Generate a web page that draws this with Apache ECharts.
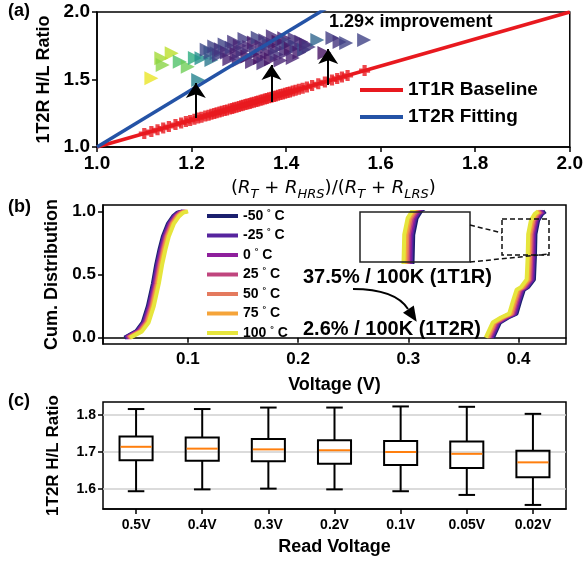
<!DOCTYPE html>
<html>
<head>
<meta charset="utf-8">
<script src="https://cdn.jsdelivr.net/npm/echarts@6/dist/echarts.min.js"></script>
<style>
  html, body { margin: 0; padding: 0; background: #fff; }
  #chart { width: 586px; height: 561px; }
</style>
</head>
<body>
<div id="chart"></div>
<script>
// ---------- panel (a): H/L ratio vs resistance ratio ----------
var baseX = [1.0, 2.0];          // 1T1R baseline (y = x)
var baseY = [1.0, 2.0];
var fitX = [1.0, 1.5];           // 1T2R fitting line
var fitY = [1.0, 2.06];
// measured 1T1R cells (sit on the baseline)
var cellRatio = [1.100, 1.115, 1.128, 1.140, 1.152, 1.166, 1.178, 1.188, 1.197, 1.206,
  1.214, 1.221, 1.229, 1.236, 1.242, 1.248, 1.253, 1.259, 1.264, 1.270, 1.275, 1.281,
  1.286, 1.290, 1.295, 1.300, 1.305, 1.309, 1.314, 1.318, 1.323, 1.327, 1.332, 1.337,
  1.341, 1.346, 1.350, 1.355, 1.359, 1.364, 1.369, 1.374, 1.378, 1.383, 1.388, 1.393,
  1.398, 1.403, 1.408, 1.414, 1.420, 1.427, 1.435, 1.444, 1.455, 1.468, 1.482, 1.497,
  1.508, 1.518, 1.530, 1.566];
// 1T2R cells: x, H/L ratio, colour variable
var triX = [1.115, 1.136, 1.139, 1.158, 1.175, 1.192, 1.207, 1.214, 1.221, 1.242, 1.253,
  1.232, 1.240, 1.248, 1.258, 1.262, 1.270, 1.275, 1.280, 1.285, 1.290, 1.295, 1.300,
  1.302, 1.308, 1.312, 1.318, 1.322, 1.328, 1.332, 1.336, 1.340, 1.345, 1.348, 1.352,
  1.356, 1.360, 1.364, 1.368, 1.372, 1.376, 1.380, 1.384, 1.388, 1.392, 1.396, 1.400,
  1.405, 1.410, 1.414, 1.418, 1.422, 1.428, 1.432, 1.438, 1.442, 1.448,
  1.466, 1.481, 1.498, 1.513, 1.527, 1.565];
var triY = [1.509, 1.657, 1.607, 1.694, 1.632, 1.595, 1.659, 1.496, 1.657, 1.644, 1.694,
  1.720, 1.700, 1.745, 1.680, 1.725, 1.760, 1.700, 1.650, 1.735, 1.780, 1.690, 1.640,
  1.750, 1.710, 1.800, 1.670, 1.740, 1.630, 1.775, 1.700, 1.810, 1.660, 1.745, 1.620,
  1.790, 1.700, 1.760, 1.650, 1.820, 1.725, 1.685, 1.780, 1.640, 1.750, 1.805, 1.700,
  1.770, 1.730, 1.660, 1.800, 1.745, 1.700, 1.780, 1.720, 1.760, 1.740,
  1.793, 1.696, 1.807, 1.778, 1.770, 1.793];
var triC = [0.97, 0.86, 0.82, 0.90, 0.72, 0.78, 0.62, 0.45, 0.50, 0.40, 0.30,
  0.22, 0.25, 0.20, 0.18, 0.15, 0.20, 0.12, 0.10, 0.18, 0.15, 0.08, 0.12,
  0.10, 0.14, 0.18, 0.06, 0.12, 0.10, 0.08, 0.15, 0.20, 0.05, 0.10, 0.12,
  0.14, 0.08, 0.18, 0.06, 0.12, 0.10, 0.15, 0.05, 0.10, 0.16, 0.08, 0.12,
  0.20, 0.06, 0.10, 0.14, 0.18, 0.08, 0.12, 0.22, 0.10, 0.15,
  0.33, 0.05, 0.18, 0.15, 0.20, 0.20];
var arrowX = [1.209, 1.369, 1.489];
var arrowFrom = [1.215, 1.333, 1.459];
var arrowTo = [1.474, 1.607, 1.726];

// ---------- panel (b): CDF of read voltage vs temperature ----------
var tempNames = ['-50', '-25', '0', '25', '50', '75', '100'];
var tempColors = ['#1a1f6e', '#56249e', '#8e1f9c', '#c0457e', '#e47a5e', '#f5a43a', '#e6e53c'];
var lrsLevels = [0.00, 0.05, 0.12, 0.25, 0.43, 0.58, 0.70, 0.80, 0.90, 0.96, 0.99, 1.00];
var lrsVolt = [
  [0.0425, 0.0530, 0.0590, 0.0637, 0.0683, 0.0713, 0.0743, 0.0773, 0.0818, 0.0865, 0.0905, 0.0950],
  [0.0433, 0.0539, 0.0599, 0.0646, 0.0692, 0.0722, 0.0752, 0.0782, 0.0827, 0.0874, 0.0914, 0.0958],
  [0.0442, 0.0548, 0.0608, 0.0655, 0.0701, 0.0731, 0.0761, 0.0791, 0.0836, 0.0883, 0.0923, 0.0967],
  [0.0451, 0.0557, 0.0617, 0.0664, 0.0710, 0.0740, 0.0770, 0.0800, 0.0845, 0.0892, 0.0932, 0.0976],
  [0.0460, 0.0566, 0.0626, 0.0673, 0.0719, 0.0749, 0.0779, 0.0809, 0.0854, 0.0901, 0.0941, 0.0984],
  [0.0468, 0.0575, 0.0635, 0.0682, 0.0728, 0.0758, 0.0788, 0.0818, 0.0863, 0.0910, 0.0950, 0.0993],
  [0.0477, 0.0584, 0.0644, 0.0691, 0.0737, 0.0767, 0.0797, 0.0827, 0.0872, 0.0919, 0.0959, 0.1002]
];
var hrsLevels = [0.00, 0.12, 0.16, 0.19, 0.30, 0.38, 0.40, 0.46, 0.64, 0.82, 0.93, 0.98, 1.00];
var hrsVolt = [
  [0.3768, 0.3831, 0.3906, 0.3981, 0.4018, 0.4048, 0.4087, 0.4139, 0.4148, 0.4153, 0.4178, 0.4213, 0.4243],
  [0.3757, 0.3820, 0.3895, 0.3970, 0.4007, 0.4037, 0.4076, 0.4128, 0.4137, 0.4142, 0.4167, 0.4202, 0.4232],
  [0.3746, 0.3809, 0.3884, 0.3959, 0.3996, 0.4026, 0.4065, 0.4117, 0.4126, 0.4131, 0.4156, 0.4191, 0.4221],
  [0.3735, 0.3798, 0.3873, 0.3948, 0.3985, 0.4015, 0.4054, 0.4106, 0.4115, 0.4120, 0.4145, 0.4180, 0.4210],
  [0.3724, 0.3787, 0.3862, 0.3937, 0.3974, 0.4004, 0.4043, 0.4095, 0.4104, 0.4109, 0.4134, 0.4169, 0.4199],
  [0.3713, 0.3776, 0.3851, 0.3926, 0.3963, 0.3993, 0.4032, 0.4084, 0.4093, 0.4098, 0.4123, 0.4158, 0.4188],
  [0.3702, 0.3765, 0.3840, 0.3915, 0.3952, 0.3982, 0.4021, 0.4073, 0.4082, 0.4087, 0.4112, 0.4147, 0.4177]
];

// ---------- panel (c): H/L ratio vs read voltage ----------
var readV = ['0.5V', '0.4V', '0.3V', '0.2V', '0.1V', '0.05V', '0.02V'];
var boxLo  = [1.594, 1.599, 1.601, 1.599, 1.594, 1.584, 1.557];
var boxQ1  = [1.678, 1.676, 1.675, 1.668, 1.665, 1.657, 1.632];
var boxMed = [1.714, 1.709, 1.707, 1.705, 1.700, 1.695, 1.672];
var boxQ3  = [1.742, 1.739, 1.735, 1.732, 1.730, 1.728, 1.703];
var boxHi  = [1.816, 1.816, 1.820, 1.820, 1.823, 1.822, 1.803];

var FONT = 'Liberation Sans, Arial, Helvetica, sans-serif';
var myChart = echarts.init(document.getElementById('chart'));

function pairs(xs, ys) {
  return xs.map(function (x, i) { return [x, ys[i]]; });
}
function oneDec(v) { return v.toFixed(1); }

var boxAxisLine = { lineStyle: { color: '#000', width: 1.5 } };
var outTick = { show: true, length: 5, lineStyle: { color: '#000', width: 1.5 } };

var series = [];
// (a)
series.push({
  type: 'scatter', xAxisIndex: 0, yAxisIndex: 0,
  symbol: 'triangle', symbolRotate: -90, symbolSize: 14,
  data: triX.map(function (x, i) { return [x, triY[i], triC[i]]; }),
  z: 2
});
series.push({
  type: 'scatter', xAxisIndex: 0, yAxisIndex: 0,
  symbol: 'path://M3.1,0H6.9V3.1H10V6.9H6.9V10H3.1V6.9H0V3.1H3.1Z', symbolSize: 11,
  itemStyle: { color: '#e8191f' },
  data: cellRatio.map(function (v) { return [v, v]; }),
  z: 3
});
series.push({
  name: '1T1R Baseline', type: 'line', xAxisIndex: 0, yAxisIndex: 0,
  showSymbol: false, lineStyle: { color: '#e8191f', width: 3.5 }, itemStyle: { color: '#e8191f' },
  data: pairs(baseX, baseY), z: 4
});
series.push({
  name: '1T2R Fitting', type: 'line', xAxisIndex: 0, yAxisIndex: 0,
  showSymbol: false, clip: true, lineStyle: { color: '#2453a6', width: 3.5 }, itemStyle: { color: '#2453a6' },
  data: pairs(fitX, fitY), z: 5
});
series.push({
  type: 'lines', coordinateSystem: 'cartesian2d', xAxisIndex: 0, yAxisIndex: 0,
  symbol: ['none', 'arrow'], symbolSize: 15,
  lineStyle: { color: '#000', width: 2, opacity: 1 }, itemStyle: { color: '#000' },
  data: arrowX.map(function (x, i) { return { coords: [[x, arrowFrom[i]], [x, arrowTo[i]]] }; }),
  z: 6
});
// (b) main: LRS and HRS clusters, plus inset
tempNames.forEach(function (t, k) {
  var ls = { color: tempColors[k], width: 4 };
  series.push({
    name: t, type: 'line', xAxisIndex: 1, yAxisIndex: 1, showSymbol: false,
    lineStyle: ls, itemStyle: { color: tempColors[k] }, data: pairs(lrsVolt[k], lrsLevels)
  });
  series.push({
    name: t, type: 'line', xAxisIndex: 1, yAxisIndex: 1, showSymbol: false,
    lineStyle: ls, itemStyle: { color: tempColors[k] }, data: pairs(hrsVolt[k], hrsLevels)
  });
  series.push({
    name: t, type: 'line', xAxisIndex: 2, yAxisIndex: 2, showSymbol: false, clip: true,
    lineStyle: ls, itemStyle: { color: tempColors[k] }, data: pairs(hrsVolt[k], hrsLevels)
  });
});
// (c) box plots
series.push({
  type: 'custom', xAxisIndex: 3, yAxisIndex: 3,
  data: readV.map(function (c, i) { return [i, boxLo[i], boxQ1[i], boxMed[i], boxQ3[i], boxHi[i]]; }),
  encode: { x: 0, y: [1, 2, 3, 4, 5] },
  renderItem: function (params, api) {
    var x = api.value(0);
    var lo = api.coord([x, api.value(1)]);
    var q1 = api.coord([x, api.value(2)]);
    var md = api.coord([x, api.value(3)]);
    var q3 = api.coord([x, api.value(4)]);
    var hi = api.coord([x, api.value(5)]);
    var band = api.size([1, 0])[0];
    var bw = band * 0.5, cw = band * 0.25, cx = lo[0];
    var ls = { stroke: '#000', lineWidth: 2 };
    return {
      type: 'group', children: [
        { type: 'line', shape: { x1: cx, y1: hi[1], x2: cx, y2: q3[1] }, style: ls },
        { type: 'line', shape: { x1: cx, y1: q1[1], x2: cx, y2: lo[1] }, style: ls },
        { type: 'line', shape: { x1: cx - cw / 2, y1: hi[1], x2: cx + cw / 2, y2: hi[1] }, style: ls },
        { type: 'line', shape: { x1: cx - cw / 2, y1: lo[1], x2: cx + cw / 2, y2: lo[1] }, style: ls },
        { type: 'rect', shape: { x: cx - bw / 2, y: q3[1], width: bw, height: q1[1] - q3[1] },
          style: { stroke: '#000', lineWidth: 2, fill: 'none' } },
        { type: 'line', shape: { x1: cx - bw / 2 + 1, y1: md[1], x2: cx + bw / 2 - 1, y2: md[1] },
          style: { stroke: '#ff7f0e', lineWidth: 2 } }
      ]
    };
  }
});

var option = {
  animation: false,
  backgroundColor: '#fff',
  textStyle: { fontFamily: FONT, color: '#000' },
  grid: [
    { left: 97, top: 12, width: 474, height: 135, show: true, borderColor: '#000', borderWidth: 1.5 },
    { left: 103, top: 205, width: 463, height: 139, show: true, borderColor: '#000', borderWidth: 1.5 },
    { left: 360, top: 212, width: 110, height: 50, show: true, borderColor: '#222', borderWidth: 1.5, z: 5 },
    { left: 103, top: 402, width: 463, height: 107, show: true, borderColor: '#000', borderWidth: 1.5 }
  ],
  visualMap: {
    show: false, seriesIndex: 0, dimension: 2, min: 0, max: 1,
    inRange: { color: ['#440154', '#482878', '#3e4989', '#31688e', '#26828e',
                       '#1f9e89', '#35b779', '#6ece58', '#b5de2b', '#fde725'] }
  },
  legend: [
    {
      data: ['1T1R Baseline', '1T2R Fitting'], orient: 'vertical', left: 360, top: 80, padding: 0,
      icon: 'rect', itemWidth: 43, itemHeight: 4, itemGap: 7, itemTextGap: 15,
      textStyle: { fontFamily: FONT, fontSize: 19, fontWeight: 'bold', color: '#000', lineHeight: 20 }
    },
    {
      data: tempNames, orient: 'vertical', left: 207, top: 208, padding: 0,
      icon: 'rect', itemWidth: 31, itemHeight: 4, itemGap: 3.5, itemTextGap: 9,
      formatter: function (n) { return '{t|' + n + ' }{d|°}{t| C}'; },
      textStyle: {
        fontFamily: FONT, fontSize: 14, fontWeight: 'bold', color: '#000', lineHeight: 16,
        rich: {
          t: { fontFamily: FONT, fontSize: 14, fontWeight: 'bold', color: '#000', lineHeight: 16 },
          d: { fontFamily: FONT, fontSize: 9, fontWeight: 'bold', color: '#000', lineHeight: 9, verticalAlign: 'top' }
        }
      }
    }
  ],
  xAxis: [
    {
      gridIndex: 0, type: 'value', min: 1, max: 2, interval: 0.2,
      axisLine: boxAxisLine, axisTick: outTick, splitLine: { show: false },
      axisLabel: { formatter: oneDec, fontSize: 19, fontWeight: 'bold', color: '#000', margin: 7 },
      name: '{m|(}{i|R}{s|T}{m| + }{i|R}{s|HRS}{m|)/(}{i|R}{s|T}{m| + }{i|R}{s|LRS}{m|)}',
      nameLocation: 'middle', nameGap: 28,
      nameTextStyle: {
        rich: {
          m: { fontFamily: 'DejaVu Sans', fontSize: 18, color: '#000', lineHeight: 26 },
          i: { fontFamily: 'DejaVu Sans', fontStyle: 'italic', fontSize: 18, color: '#000', lineHeight: 26 },
          s: { fontFamily: 'DejaVu Sans', fontStyle: 'italic', fontSize: 13, color: '#000', lineHeight: 14, verticalAlign: 'bottom' }
        }
      }
    },
    {
      gridIndex: 1, type: 'value', min: 0.023, max: 0.443,
      axisLine: boxAxisLine, splitLine: { show: false },
      axisTick: { show: true, length: 5, lineStyle: { color: '#000', width: 1.5 }, customValues: [0.1, 0.2, 0.3, 0.4] },
      axisLabel: { customValues: [0.1, 0.2, 0.3, 0.4], formatter: oneDec, fontSize: 17, fontWeight: 'bold', color: '#000', margin: 7 },
      name: 'Voltage (V)', nameLocation: 'middle', nameGap: 32,
      nameTextStyle: { fontSize: 18, fontWeight: 'bold', color: '#000' }
    },
    {
      gridIndex: 2, type: 'value', min: 0.3763, max: 0.4569, show: false
    },
    {
      gridIndex: 3, type: 'category', data: readV, boundaryGap: true,
      axisLine: boxAxisLine,
      axisTick: { show: true, alignWithLabel: true, length: 5, lineStyle: { color: '#000', width: 1.5 } },
      axisLabel: { fontSize: 14, fontWeight: 'bold', color: '#000', margin: 9 },
      name: 'Read Voltage', nameLocation: 'middle', nameGap: 29,
      nameTextStyle: { fontSize: 18, fontWeight: 'bold', color: '#000' }
    }
  ],
  yAxis: [
    {
      gridIndex: 0, type: 'value', min: 1, max: 2, interval: 0.5,
      axisLine: boxAxisLine, axisTick: outTick, splitLine: { show: false },
      axisLabel: { formatter: oneDec, fontSize: 19, fontWeight: 'bold', color: '#000', margin: 7 },
      name: '1T2R H/L Ratio', nameLocation: 'middle', nameGap: 41,
      nameTextStyle: { fontSize: 18, fontWeight: 'bold', color: '#000' }
    },
    {
      gridIndex: 1, type: 'value', min: -0.05, max: 1.05,
      axisLine: boxAxisLine, splitLine: { show: false },
      axisTick: { show: true, length: 5, lineStyle: { color: '#000', width: 1.5 }, customValues: [0, 0.5, 1.0] },
      axisLabel: { customValues: [0, 0.5, 1.0], formatter: oneDec, fontSize: 17, fontWeight: 'bold', color: '#000', margin: 7 },
      name: 'Cum. Distribution', nameLocation: 'middle', nameGap: 41,
      nameTextStyle: { fontSize: 18, fontWeight: 'bold', color: '#000' }
    },
    {
      gridIndex: 2, type: 'value', min: 0.64, max: 0.97, show: false
    },
    {
      gridIndex: 3, type: 'value', min: 1.546, max: 1.835,
      axisLine: boxAxisLine,
      axisTick: { show: true, length: 5, lineStyle: { color: '#000', width: 1.5 }, customValues: [1.6, 1.7, 1.8] },
      axisLabel: { customValues: [1.6, 1.7, 1.8], formatter: oneDec, fontSize: 14, fontWeight: 'bold', color: '#000', margin: 7 },
      splitLine: { show: true, lineStyle: { color: '#cfcfcf', width: 1.5 } },
      name: '1T2R H/L Ratio', nameLocation: 'middle', nameGap: 41,
      nameTextStyle: { fontSize: 17, fontWeight: 'bold', color: '#000' }
    }
  ],
  graphic: [
    { type: 'text', left: 8, top: 2, style: { text: '(a)', font: 'bold 18px ' + FONT, fill: '#000' } },
    { type: 'text', left: 8, top: 198, style: { text: '(b)', font: 'bold 18px ' + FONT, fill: '#000' } },
    { type: 'text', left: 8, top: 392, style: { text: '(c)', font: 'bold 18px ' + FONT, fill: '#000' } },
    { type: 'text', left: 329, top: 13, z: 20, style: { text: '1.29× improvement', font: 'bold 18px ' + FONT, fill: '#000' } },
    { type: 'text', left: 303, top: 267, z: 20, style: { text: '37.5% / 100K (1T1R)', font: 'bold 20px ' + FONT, fill: '#000' } },
    { type: 'text', left: 303, top: 319, z: 20, style: { text: '2.6% / 100K (1T2R)', font: 'bold 20px ' + FONT, fill: '#000' } },
    // curved arrow between the two annotations
    { type: 'bezierCurve', z: 20, shape: { x1: 353, y1: 289, cpx1: 395, cpy1: 289, x2: 408, y2: 309 },
      style: { stroke: '#000', lineWidth: 2, fill: 'none' } },
    { type: 'polygon', z: 20, shape: { points: [[416.7, 321.7], [413.8, 305.6], [403, 312.8]] },
      style: { fill: '#000' } },
    // zoom box and connectors
    { type: 'rect', z: 20, shape: { x: 502, y: 219, width: 47, height: 36 },
      style: { fill: 'none', stroke: '#111', lineWidth: 1.5, lineDash: [5, 3] } },
    { type: 'line', z: 20, shape: { x1: 470, y1: 225, x2: 502, y2: 233 },
      style: { stroke: '#111', lineWidth: 1.5, lineDash: [5, 3] } },
    { type: 'line', z: 20, shape: { x1: 470, y1: 262, x2: 549, y2: 254 },
      style: { stroke: '#111', lineWidth: 1.5, lineDash: [5, 3] } }
  ],
  series: series
};

myChart.setOption(option);
window.addEventListener('resize', function () {
  myChart.resize();
});
</script>
</body>
</html>
